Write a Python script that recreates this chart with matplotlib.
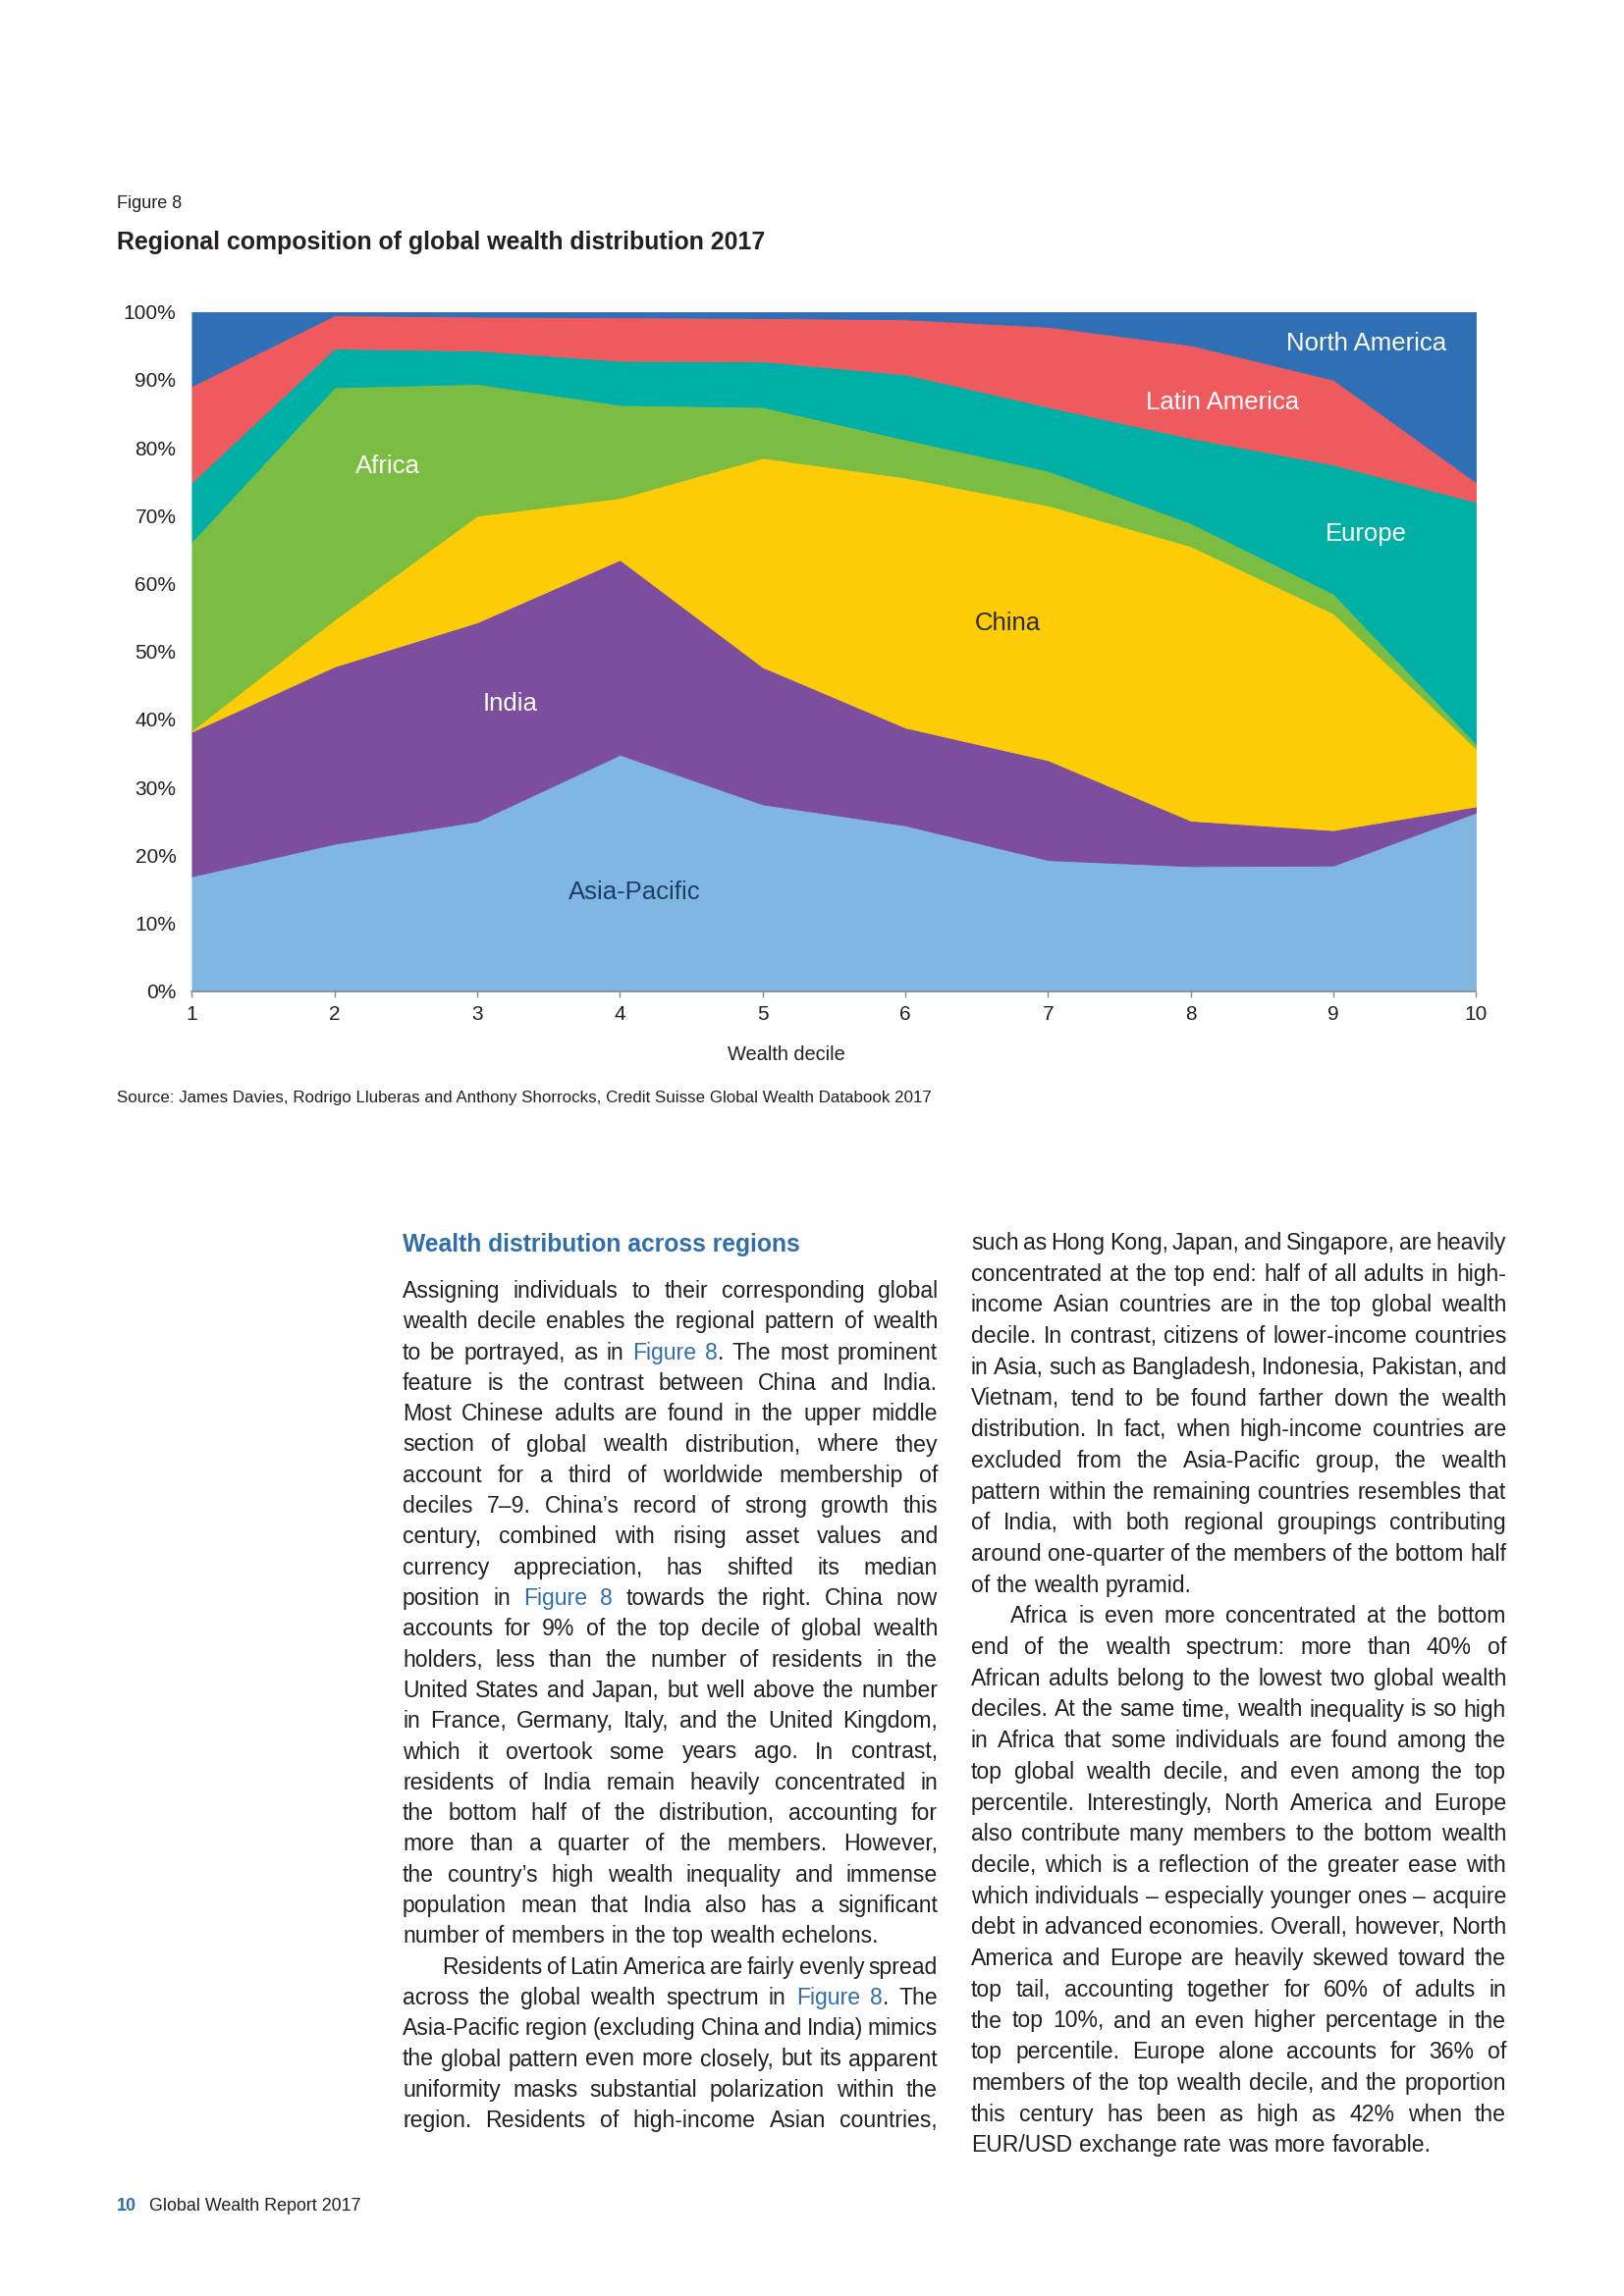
import matplotlib
matplotlib.use("Agg")
import matplotlib.pyplot as plt

# regional share of each global wealth decile, %
deciles = [1, 2, 3, 4, 5, 6, 7, 8, 9, 10]
asia_pacific = [16.9, 21.7, 25.0, 34.8, 27.5, 24.4, 19.3, 18.4, 18.5, 26.3]
india = [21.3, 26.1, 29.3, 28.7, 20.2, 14.4, 14.7, 6.7, 5.2, 0.9]
china = [0.2, 6.9, 15.7, 9.1, 30.8, 36.8, 37.5, 40.4, 31.9, 8.5]
africa = [27.8, 34.2, 19.4, 13.7, 7.5, 5.6, 5.1, 3.4, 2.9, 0.7]
europe = [8.7, 5.7, 4.9, 6.5, 6.7, 9.6, 9.4, 12.5, 19.0, 35.6]
latin_america = [14.2, 4.9, 5.0, 6.4, 6.4, 8.1, 11.8, 13.7, 12.5, 2.9]
north_america = [10.9, 0.5, 0.7, 0.8, 0.9, 1.1, 2.2, 4.9, 10.0, 25.1]

regions = ["Asia-Pacific", "India", "China", "Africa", "Europe",
           "Latin America", "North America"]
colors = ["#80b6e2", "#7d4e9d", "#fccc07", "#7bbd42", "#00afa6",
          "#ef5a5e", "#2f6fb6"]
ytick_vals = [0, 10, 20, 30, 40, 50, 60, 70, 80, 90, 100]

left_lines = [
    "Assigning individuals to their corresponding global",
    "wealth decile enables the regional pattern of wealth",
    "to be portrayed, as in #Figure 8#. The most prominent",
    "feature is the contrast between China and India.",
    "Most Chinese adults are found in the upper middle",
    "section of global wealth distribution, where they",
    "account for a third of worldwide membership of",
    "deciles 7\u20139. China\u2019s record of strong growth this",
    "century, combined with rising asset values and",
    "currency appreciation, has shifted its median",
    "position in #Figure 8# towards the right. China now",
    "accounts for 9% of the top decile of global wealth",
    "holders, less than the number of residents in the",
    "United States and Japan, but well above the number",
    "in France, Germany, Italy, and the United Kingdom,",
    "which it overtook some years ago. In contrast,",
    "residents of India remain heavily concentrated in",
    "the bottom half of the distribution, accounting for",
    "more than a quarter of the members. However,",
    "the country\u2019s high wealth inequality and immense",
    "population mean that India also has a significant",
    "number of members in the top wealth echelons.",
    "Residents of Latin America are fairly evenly spread",
    "across the global wealth spectrum in #Figure 8#. The",
    "Asia-Pacific region (excluding China and India) mimics",
    "the global pattern even more closely, but its apparent",
    "uniformity masks substantial polarization within the",
    "region. Residents of high-income Asian countries,",
]
left_last = {21}
left_indent = {22}

right_lines = [
    "such as Hong Kong, Japan, and Singapore, are heavily",
    "concentrated at the top end: half of all adults in high-",
    "income Asian countries are in the top global wealth",
    "decile. In contrast, citizens of lower-income countries",
    "in Asia, such as Bangladesh, Indonesia, Pakistan, and",
    "Vietnam, tend to be found farther down the wealth",
    "distribution. In fact, when high-income countries are",
    "excluded from the Asia-Pacific group, the wealth",
    "pattern within the remaining countries resembles that",
    "of India, with both regional groupings contributing",
    "around one-quarter of the members of the bottom half",
    "of the wealth pyramid.",
    "Africa is even more concentrated at the bottom",
    "end of the wealth spectrum: more than 40% of",
    "African adults belong to the lowest two global wealth",
    "deciles. At the same time, wealth inequality is so high",
    "in Africa that some individuals are found among the",
    "top global wealth decile, and even among the top",
    "percentile. Interestingly, North America and Europe",
    "also contribute many members to the bottom wealth",
    "decile, which is a reflection of the greater ease with",
    "which individuals \u2013 especially younger ones \u2013 acquire",
    "debt in advanced economies. Overall, however, North",
    "America and Europe are heavily skewed toward the",
    "top tail, accounting together for 60% of adults in",
    "the top 10%, and an even higher percentage in the",
    "top percentile. Europe alone accounts for 36% of",
    "members of the top wealth decile, and the proportion",
    "this century has been as high as 42% when the",
    "EUR/USD exchange rate was more favorable.",
]
right_last = {11, 29}
right_indent = {12}

plt.rcParams["font.family"] = ["Liberation Sans", "DejaVu Sans"]

W, H = 1654, 2339
BLUE = "#2f6eab"
TXT = "#231f20"

fig = plt.figure(figsize=(W / 100, H / 100), dpi=100)
fig.patch.set_facecolor("white")

# page overlay in pixel coordinates
pg = fig.add_axes([0, 0, 1, 1])
pg.set_xlim(0, W)
pg.set_ylim(H, 0)
pg.axis("off")

# chart
ax = fig.add_axes([195.4 / W, 1 - 1009.7 / H, 1308 / W, 692 / H])
series = [asia_pacific, india, china, africa, europe, latin_america, north_america]
polys = ax.stackplot(deciles, *series, colors=colors, labels=regions)
for p, c in zip(polys, colors):
    p.set_edgecolor(c)
    p.set_linewidth(0.6)
ax.set_xlim(1, 10)
ax.set_ylim(0, 100)
ax.set_xticks(deciles)
ax.set_yticks(ytick_vals)
ax.set_yticklabels([f"{v}%" for v in ytick_vals])
for s in ["top", "right", "left"]:
    ax.spines[s].set_visible(False)
ax.spines["bottom"].set_color("#8a8a8a")
ax.spines["bottom"].set_linewidth(1.2)
ax.spines["bottom"].set_zorder(5)
ax.tick_params(axis="y", length=0, pad=11.5, labelsize=15, labelcolor=TXT)
ax.tick_params(axis="x", length=4, width=1, color="#8a8a8a", pad=6,
               labelsize=15, labelcolor=TXT)

label_style = {
    "North America": (9.23, 95.4, "white"),
    "Latin America": (8.22, 86.7, "white"),
    "Europe": (9.23, 67.3, "white"),
    "China": (6.72, 54.2, "#2b2b2b"),
    "India": (3.23, 42.3, "white"),
    "Africa": (2.37, 77.2, "white"),
    "Asia-Pacific": (4.10, 14.5, "#1d3c6e"),
}
for name, (lx, ly, lc) in label_style.items():
    ax.text(lx, ly, name, color=lc, fontsize=18.5, ha="center", va="center")

# page texts
pg.text(119, 208, "Figure 8", fontsize=13, color=TXT, va="center")
pg.text(119, 247, "Regional composition of global wealth distribution 2017",
        fontsize=17.9, fontweight="bold", color=TXT, va="center")
pg.text(801, 1074, "Wealth decile", fontsize=14.4, color=TXT, ha="center", va="center")
pg.text(119, 1119, "Source: James Davies, Rodrigo Lluberas and Anthony Shorrocks, "
        "Credit Suisse Global Wealth Databook 2017",
        fontsize=12.2, color=TXT, va="center")
pg.text(119, 2248, "10", fontsize=12.9, fontweight="bold", color=BLUE, va="center")
pg.text(152, 2248, "Global Wealth Report 2017", fontsize=12.9, color=TXT, va="center")
pg.text(410, 1268, "Wealth distribution across regions", fontsize=17.7,
        fontweight="bold", color=BLUE, va="center")

renderer = fig.canvas.get_renderer()
BODY = 16.6


def width_of(t):
    return t.get_window_extent(renderer).width


def set_line(x0, y, colw, line, justify, indent, size=BODY):
    blue = False
    words = []
    for tok in line.split(" "):
        segs = []
        for i, part in enumerate(tok.split("#")):
            if i > 0:
                blue = not blue
            if part:
                segs.append(pg.text(0, y, part, fontsize=size, va="baseline",
                                    color=BLUE if blue else TXT))
        words.append(segs)
    probe1 = pg.text(0, 0, "n n", fontsize=size)
    probe2 = pg.text(0, 0, "nn", fontsize=size)
    space = width_of(probe1) - width_of(probe2)
    probe1.remove()
    probe2.remove()
    wws = [[width_of(s) for s in segs] for segs in words]
    total = sum(sum(w) for w in wws)
    avail = colw - indent
    gap = space
    if justify and len(words) > 1:
        gap = (avail - total) / (len(words) - 1)
        if gap < 0.55 * space:
            # line too long for this size: set it again a little smaller
            for segs in words:
                for s in segs:
                    s.remove()
            set_line(x0, y, colw, line, justify, indent, size * 0.97)
            return
    x = x0 + indent
    for segs, ws in zip(words, wws):
        for s, w in zip(segs, ws):
            s.set_x(x)
            x += w
        x += gap


def set_column(x0, y0, step, colw, lines, last, indent, last_justified):
    for i, line in enumerate(lines):
        justify = i not in last and (i != len(lines) - 1 or last_justified)
        set_line(x0, y0 + i * step, colw, line, justify,
                 40 if i in indent else 0)


set_column(410, 1322, 31.3, 545, left_lines, left_last, left_indent, True)
set_column(989, 1273, 31.7, 545, right_lines, right_last, right_indent, False)

fig.savefig("out.png", dpi=100, facecolor="white")
